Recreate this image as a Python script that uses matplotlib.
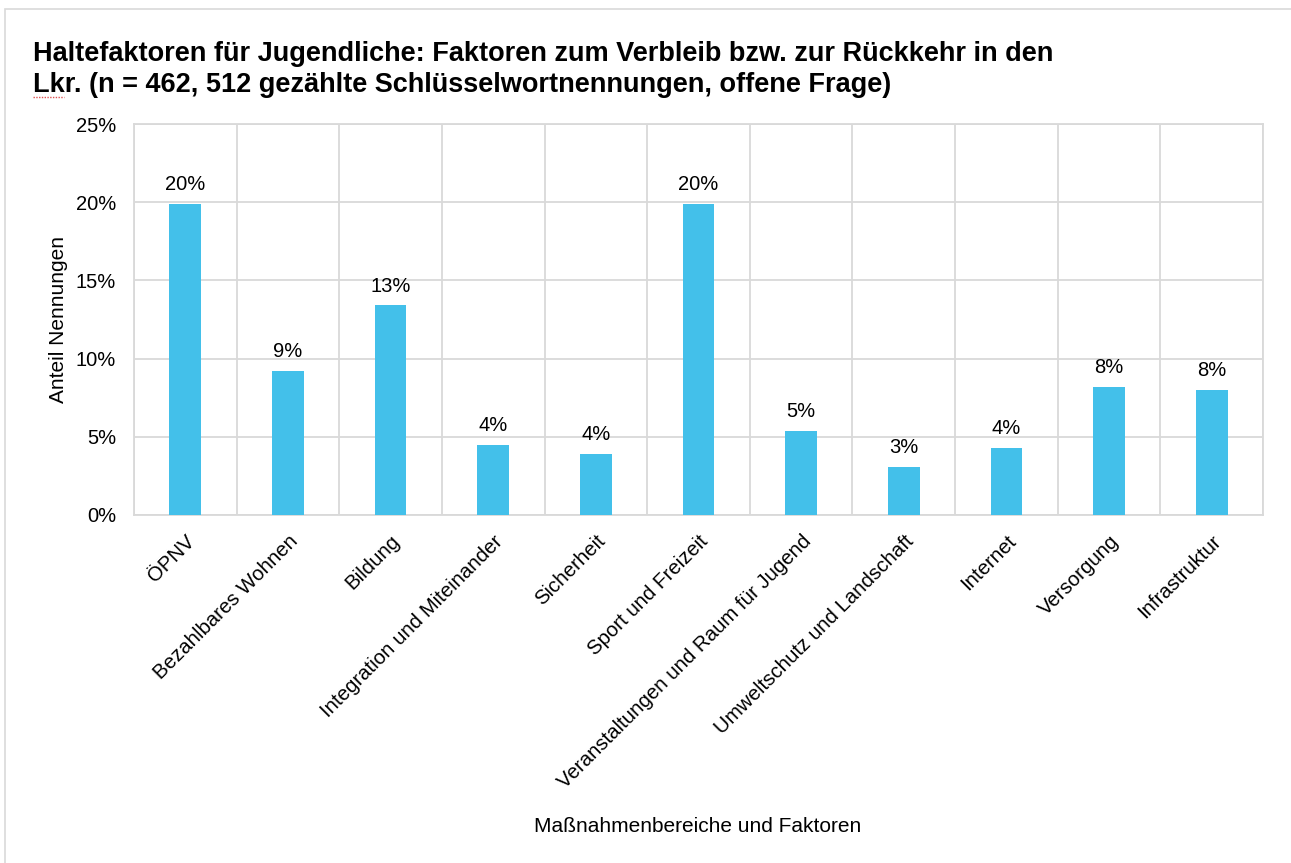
import matplotlib
matplotlib.use("Agg")
import matplotlib.pyplot as plt
import numpy as np
from matplotlib.lines import Line2D
from matplotlib.patches import Rectangle

plt.rcParams['font.family'] = ['Liberation Sans', 'DejaVu Sans']

categories = ["ÖPNV", "Bezahlbares Wohnen", "Bildung", "Integration und Miteinander",
              "Sicherheit", "Sport und Freizeit", "Veranstaltungen und Raum für Jugend",
              "Umweltschutz und Landschaft", "Internet", "Versorgung", "Infrastruktur"]
values = [19.9, 9.2, 13.4, 4.5, 3.9, 19.9, 5.4, 3.1, 4.3, 8.2, 8.0]
yticks = [0, 5, 10, 15, 20, 25]

title = ("Haltefaktoren für Jugendliche: Faktoren zum Verbleib bzw. zur Rückkehr in den\n"
         "Lkr. (n = 462, 512 gezählte Schlüsselwortnennungen, offene Frage)")
ylabel = "Anteil Nennungen"
xlabel = "Maßnahmenbereiche und Faktoren"

W, H = 1291, 863
fig = plt.figure(figsize=(W / 100, H / 100), dpi=100)
fig.patch.set_facecolor("white")

# outer chart border
fig.add_artist(Rectangle((5 / W, -0.01), 1.2, 1 - 9 / H + 0.01, transform=fig.transFigure,
                         fill=False, edgecolor="#D9D9D9", linewidth=1.2))

ax = fig.add_axes([134 / W, (H - 515) / H, (1263 - 134) / W, (515 - 124) / H])
x = np.arange(len(categories))
bar_color = "#43C0EA"
grid_color = "#D9D9D9"
ax.bar(x, values, width=0.31, color=bar_color, zorder=3)
ax.set_xlim(-0.5, len(categories) - 0.5)
ax.set_ylim(0, 25)
ax.set_yticks(yticks)
ax.set_yticklabels([f"{t}%" for t in yticks])
ax.set_xticks(x)
ax.set_xticklabels(categories, rotation=45, ha="right", va="top", rotation_mode="anchor")
ax.set_xticks(np.arange(-0.5, len(categories)), minor=True)
ax.grid(axis="x", which="minor", color=grid_color, linewidth=1.3, zorder=0)
ax.grid(axis="y", which="major", color=grid_color, linewidth=1.3, zorder=0)
ax.tick_params(axis="both", which="both", length=0)
ax.tick_params(axis="y", labelsize=14.5, pad=13, colors="#000000")
ax.tick_params(axis="x", labelsize=14.7, pad=12)
for s in ax.spines.values():
    s.set_color(grid_color)
    s.set_linewidth(1.3)

for xi, v in zip(x, values):
    ax.annotate(f"{round(v)}%", (xi, v), xytext=(0, 7), textcoords="offset points",
                ha="center", va="bottom", fontsize=14.5)

ax.set_ylabel(ylabel, fontsize=15)
ax.yaxis.set_label_coords(-66 / (1263 - 134), 0.5)
fig.text(698 / W, 1 - 826 / H, xlabel, ha="center", va="center", fontsize=15)

fig.text(33 / W, 1 - 41 / H, title, ha="left", va="top", fontsize=19.5, fontweight="bold",
         linespacing=1.24)
# spell-check squiggle under "Lkr."
fig.add_artist(Line2D([33 / W, 64 / W], [1 - 97 / H, 1 - 97 / H], transform=fig.transFigure,
                      color="#E05050", linewidth=1.0, linestyle=(0, (1, 1))))

fig.savefig("out.png", dpi=100, facecolor="white")
